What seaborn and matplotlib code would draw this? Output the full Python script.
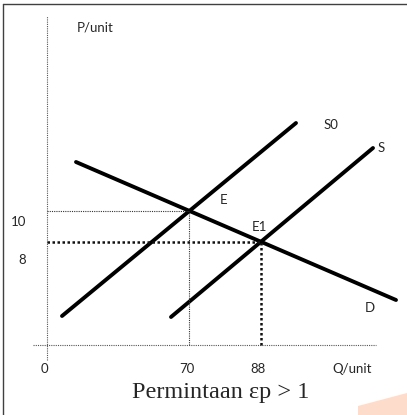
import matplotlib
matplotlib.use("Agg")
import matplotlib.pyplot as plt
import seaborn as sns
import pandas as pd
import numpy as np

# Diagram coordinates: origin at the axes crossing, units ~ pixels
curve_names = ["S0", "S0", "S", "S", "D", "D"]
curve_q = [15, 249, 124, 326, 29, 349]
curve_p = [29, 222, 28, 197, 183, 45]

# Equilibrium points (E, E1)
eq_names = ["E", "E1"]
eq_q = [142, 214]
eq_p = [134, 103]

q_tick_labels = ["0", "70", "88"]
p_tick_labels = ["10", "8"]
title = "Permintaan εp > 1"

sns.set_theme(style="white")
plt.rcParams['font.family'] = ['Lato', 'DejaVu Sans']

fig = plt.figure(figsize=(4.07, 4.15), dpi=100)
ax = fig.add_axes([0, 0, 1, 1])
ax.set_xlim(-47, 360)
ax.set_ylim(-70, 345)
ax.axis("off")

# frame
ax.plot([-44, -44], [-70, 341], color="#404040", lw=1.0)
ax.plot([-44, 360], [341, 341], color="#404040", lw=1.0)

# orange wedge
ax.fill([311, 360, 360, 311], [-61, -48, -70, -70], color="#FDDCCB", lw=0)

# axes (dotted)
ax.plot([0, 0], [-15, 329], color="#555555", lw=0.8, ls=(0, (1, 1)))
ax.plot([-14, 329], [0, 0], color="#555555", lw=0.8, ls=(0, (1, 1)))

df = pd.DataFrame({"curve": curve_names, "q": curve_q, "p": curve_p})
sns.lineplot(data=df, x="q", y="p", units="curve", estimator=None,
             color="black", lw=2.8, ax=ax, legend=False, sort=False)

# guide lines
ax.plot([0, eq_q[0]], [eq_p[0], eq_p[0]], color="#333333", lw=0.8, ls=(0, (1, 1)))
ax.plot([eq_q[0], eq_q[0]], [0, eq_p[0]], color="#333333", lw=0.8, ls=(0, (1, 1)))
ax.plot([0, eq_q[1]], [eq_p[1], eq_p[1]], color="#111111", lw=1.8, ls=(0, (1, 1)))
ax.plot([eq_q[1], eq_q[1]], [0, eq_p[1]], color="#111111", lw=1.8, ls=(0, (1, 1)))

fs = 9.5
ax.text(30, 318, "P/unit", fontsize=fs, va="center", ha="left")
ax.text(-28, 123, p_tick_labels[0], fontsize=fs, va="center", ha="center")
ax.text(-25, 85, p_tick_labels[1], fontsize=fs, va="center", ha="center")
ax.text(-3, -24, q_tick_labels[0], fontsize=fs, va="center", ha="center")
ax.text(eq_q[0] - 2, -24, q_tick_labels[1], fontsize=fs, va="center", ha="center")
ax.text(eq_q[1] - 3, -24, q_tick_labels[2], fontsize=fs, va="center", ha="center")
ax.text(305, -24, "Q/unit", fontsize=fs, va="center", ha="center")
ax.text(177, 145, eq_names[0], fontsize=fs, va="center", ha="center")
ax.text(212, 118, eq_names[1], fontsize=fs, va="center", ha="center")
ax.text(284, 220, "S0", fontsize=fs, va="center", ha="center")
ax.text(334, 197, "S", fontsize=fs, va="center", ha="center")
ax.text(323, 37, "D", fontsize=fs, va="center", ha="center")
ax.text(174, -47, title, fontsize=17.5, va="center", ha="center",
        family=["Liberation Serif", "DejaVu Serif"])

fig.savefig("out.png", dpi=100)
